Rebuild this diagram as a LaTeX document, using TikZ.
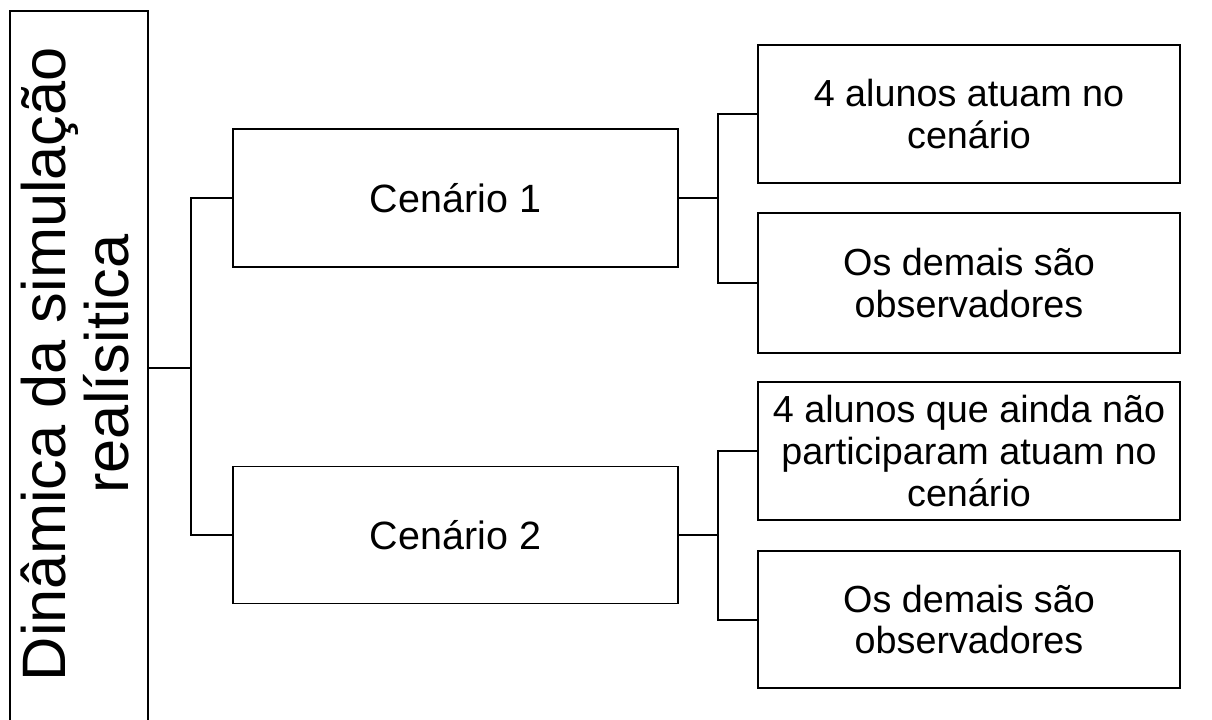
\documentclass[tikz,border=0pt]{standalone}
\usepackage{fontspec}
\setmainfont{Liberation Sans}
\begin{document}
\begin{tikzpicture}[x=0.75pt,y=-0.75pt,
  box/.style={draw, line width=1.4pt, rectangle, inner sep=0pt, align=center},
  conn/.style={line width=1.5pt},
  bigfont/.style={font=\fontsize{46}{47.3}\selectfont},
  midfont/.style={font=\fontsize{29.6}{33}\selectfont},
  smallfont/.style={font=\fontsize{28.3}{31.3}\selectfont}]
\useasboundingbox (0,0) rectangle (1212,719);
% left box
\node[box, minimum width=535.5pt, minimum height=103.5pt, rotate=90] (L) at (79,368) {};
\node[bigfont, align=center, inner sep=0pt, rotate=90] (Ltext) at (75,364)
  {Dinâmica da simulação\\realísitica};
% scenario boxes
\node[box, midfont, minimum width=333.75pt, minimum height=103.5pt] (C1) at (455.5,198) {Cenário 1};
\node[box, midfont, minimum width=333.75pt, minimum height=102.75pt] (C2) at (455.5,535) {Cenário 2};
% right boxes
\node[box, smallfont, minimum width=316.5pt, minimum height=103.5pt] (A) at (969,114) {4 alunos atuam no\\cenário};
\node[box, smallfont, minimum width=316.5pt, minimum height=105pt] (B) at (969,283) {Os demais são\\observadores};
\node[box, smallfont, minimum width=316.5pt, minimum height=103.5pt] (Cc) at (969,451) {4 alunos que ainda não\\participaram atuam no\\cenário};
\node[box, smallfont, minimum width=316.5pt, minimum height=102.75pt] (D) at (969,619.5) {Os demais são\\observadores};
% junctions
\coordinate (j0) at (191,368);
\coordinate (j1) at (718,198);
\coordinate (j2) at (718,535);
% connectors
\draw[conn, line width=2pt] (L.south) -- (j0);
\draw[conn] (C1.west) -- (C1.west -| j0) -- (C2.west -| j0) -- (C2.west);
\draw[conn] (C1.east) -- (j1);
\draw[conn] (A.west) -- (A.west -| j1) -- (B.west -| j1) -- (B.west);
\draw[conn] (C2.east) -- (j2);
\draw[conn] (Cc.west) -- (Cc.west -| j2) -- (D.west -| j2) -- (D.west);
\end{tikzpicture}
\end{document}
